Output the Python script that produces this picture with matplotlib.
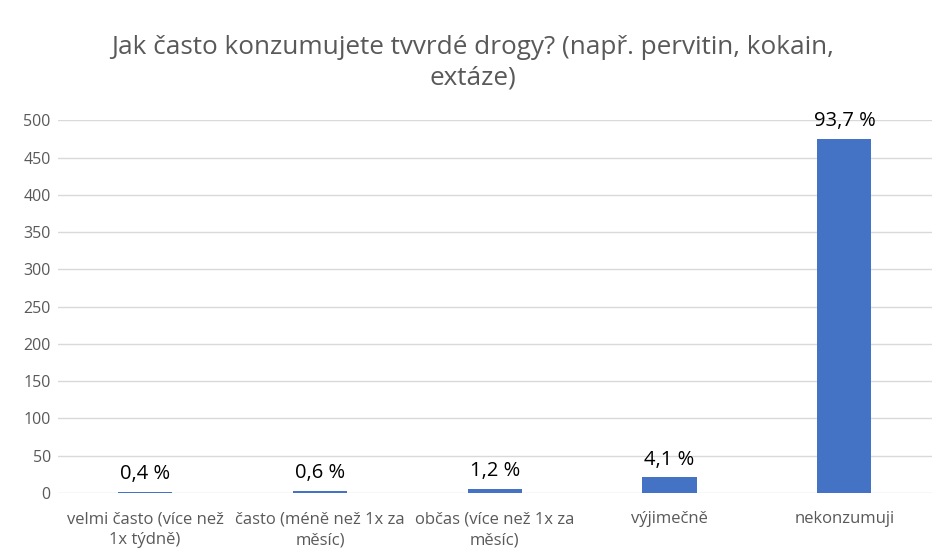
import matplotlib.pyplot as plt

# data
categories = ["velmi často (více než\n1x týdně)",
              "často (méně než 1x za\nměsíc)",
              "občas (více než 1x za\nměsíc)",
              "výjimečně",
              "nekonzumuji"]
counts = [2, 3, 6, 21, 475]
labels = ["0,4 %", "0,6 %", "1,2 %", "4,1 %", "93,7 %"]
yticks = [0, 50, 100, 150, 200, 250, 300, 350, 400, 450, 500]

plt.rcParams['font.family'] = ['Open Sans', 'DejaVu Sans']

fig = plt.figure(figsize=(9.46, 5.49), dpi=100)
ax = fig.add_axes([0.061, 0.102, 0.924, 0.679])

x = list(range(len(categories)))
ax.bar(x, counts, width=0.31, color='#4472C4', zorder=3)

for xi, c, lab in zip(x, counts, labels):
    ax.text(xi, c + 10, lab, ha='center', va='bottom', fontsize=14.5,
            color='black', clip_on=False)

ax.set_xlim(-0.5, 4.5)
ax.set_ylim(0, 500)
ax.set_yticks(yticks)
ax.set_xticks(x)
ax.set_xticklabels(categories, fontsize=12, color='#595959', linespacing=1.45)
ax.tick_params(axis='y', labelsize=11.5, colors='#595959', length=0, pad=5)
ax.tick_params(axis='x', length=0, pad=13)
ax.grid(axis='y', color='#d9d9d9', linewidth=1, zorder=0)
for s in ax.spines.values():
    s.set_visible(False)

fig.text(0.5, 0.886, "Jak často konzumujete tvvrdé drogy? (např. pervitin, kokain,\nextáze)",
         ha='center', va='center', fontsize=18.8, color='#595959', linespacing=1.3)

fig.savefig("out.png", dpi=100)
